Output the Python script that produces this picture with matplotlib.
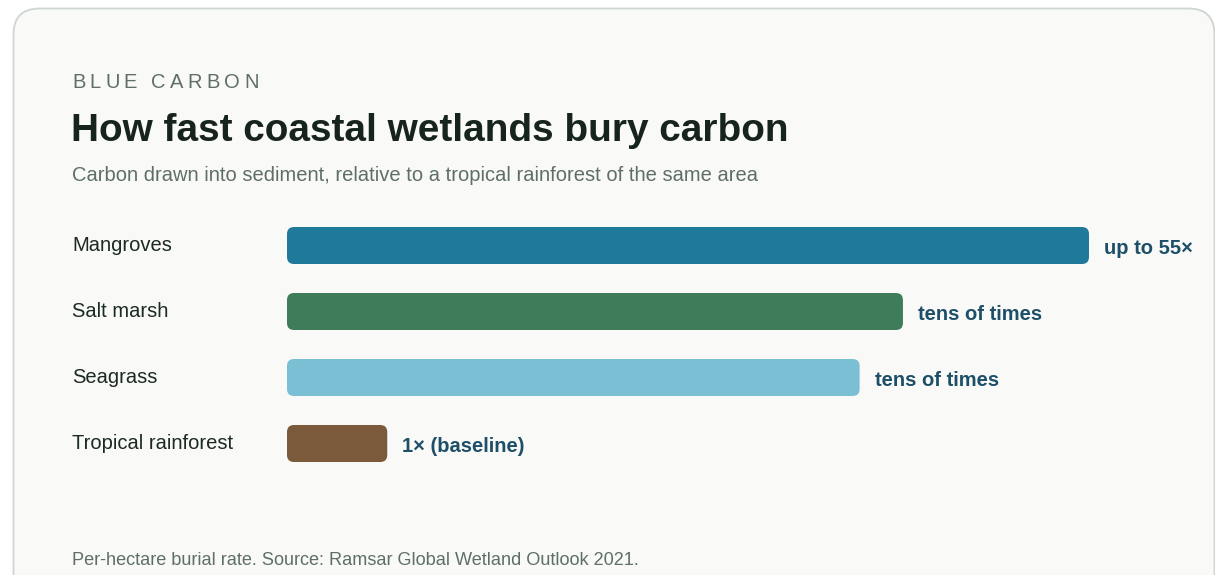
import matplotlib
matplotlib.use("Agg")
import matplotlib.pyplot as plt
from matplotlib.patches import FancyBboxPatch
from matplotlib import transforms

plt.rcParams["font.family"] = ["Liberation Sans", "DejaVu Sans"]

# -- data ---------------------------------------------------------------------
categories = ["Mangroves", "Salt marsh", "Seagrass", "Tropical rainforest"]
bar_widths = [100, 76.8, 71.4, 12.5]          # relative bar length, % of longest
value_labels = ["up to 55×", "tens of times", "tens of times", "1× (baseline)"]
bar_colors = ["#1f7a9a", "#3f7c5a", "#7bbfd4", "#7a5a3a"]

eyebrow = "BLUE CARBON"
title = "How fast coastal wetlands bury carbon"
subtitle = "Carbon drawn into sediment, relative to a tropical rainforest of the same area"
footer = "Per-hectare burial rate. Source: Ramsar Global Wetland Outlook 2021."

W, H = 1215, 575
fig = plt.figure(figsize=(W / 100, H / 100), dpi=100)
fig.patch.set_facecolor("white")

# background axes in pixel coordinates (y downwards)
bg = fig.add_axes([0, 0, 1, 1])
bg.set_xlim(0, W)
bg.set_ylim(H, 0)
bg.axis("off")
card = FancyBboxPatch((13.5, 8.5), 1201, 600, boxstyle="round,pad=0,rounding_size=26",
                      fc="#f9f9f7", ec="#cdd6d1", lw=1.3)
bg.add_patch(card)


def px(x, y):
    return x / W, 1 - y / H


# eyebrow with letter spacing
renderer = fig.canvas.get_renderer()
eb_size = 14.5
x = 72
for ch in eyebrow:
    t = fig.text(*px(x, 88.5), ch, fontsize=eb_size, color="#5f6f68", va="baseline", ha="left")
    w = t.get_window_extent(renderer).width
    if ch == " ":
        w = eb_size * 100 / 72 * 0.28
    x += w + 4.3

fig.text(*px(71, 141), title, fontsize=27.9, fontweight="bold", color="#17241e",
         va="baseline", ha="left")
fig.text(*px(72, 180.7), subtitle, fontsize=14.5, color="#5f6f68", va="baseline", ha="left")
fig.text(*px(72, 565), footer, fontsize=13.1, color="#5f6f68", va="baseline", ha="left")

# -- bars ---------------------------------------------------------------------
x0, x1 = 287, 1089
yc0, pitch, bh = 245.5, 66, 37
top = yc0 - pitch / 2
bottom = yc0 + pitch * (len(categories) - 0.5)
ax = fig.add_axes([x0 / W, 1 - bottom / H, (x1 - x0) / W, (bottom - top) / H])
ax.set_xlim(0, max(bar_widths))
ax.set_ylim(len(categories) - 0.5, -0.5)
ax.axis("off")

ypos = list(range(len(categories)))
bars = ax.barh(ypos, bar_widths, height=bh / pitch, color=bar_colors)

xs_per_px = max(bar_widths) / (x1 - x0)
ys_per_px = 1 / pitch
radius = 7 * xs_per_px
for b in bars:
    xb, yb = b.get_x(), b.get_y()
    wb, hb = b.get_width(), b.get_height()
    b.set_visible(False)
    ax.add_patch(FancyBboxPatch((xb, yb), wb, hb,
                                boxstyle=f"round,pad=0,rounding_size={radius}",
                                mutation_aspect=ys_per_px / xs_per_px,
                                fc=b.get_facecolor(), ec="none"))

lab_tr = transforms.blended_transform_factory(fig.transFigure, ax.transData)
for i, (cat, w, lab) in enumerate(zip(categories, bar_widths, value_labels)):
    ax.text(72 / W, i + 5.5 / pitch, cat, transform=lab_tr, fontsize=14.5, color="#1c2a24",
            va="baseline", ha="left")
    ax.text(w + 15 * xs_per_px, i + 8.6 / pitch, lab, fontsize=14.5, fontweight="bold",
            color="#1d4f68", va="baseline", ha="left", clip_on=False)

fig.savefig("out.png", dpi=100, facecolor=fig.get_facecolor())
